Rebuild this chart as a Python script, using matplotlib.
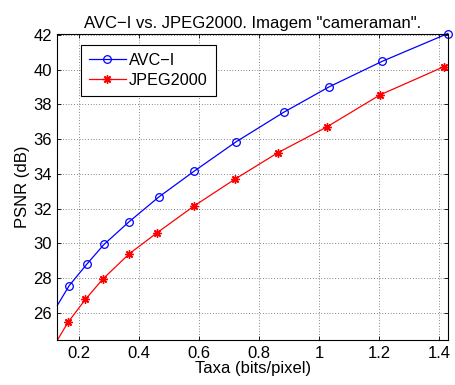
import numpy as np
import matplotlib
matplotlib.use("Agg")
import matplotlib.pyplot as plt

plt.rcParams['font.family'] = ['Liberation Sans', 'DejaVu Sans']

# taxa (bits/pixel) e PSNR (dB)
taxa_avc = [0.127, 0.166, 0.225, 0.282, 0.366, 0.464, 0.583, 0.722, 0.881, 1.032, 1.209, 1.428]
psnr_avc = [26.45, 27.57, 28.81, 29.94, 31.25, 32.66, 34.16, 35.84, 37.54, 39.00, 40.47, 42.07]

taxa_jpeg = [0.127, 0.162, 0.220, 0.278, 0.366, 0.458, 0.582, 0.718, 0.861, 1.025, 1.202, 1.416]
psnr_jpeg = [24.45, 25.46, 26.78, 27.95, 29.40, 30.60, 32.15, 33.69, 35.21, 36.70, 38.54, 40.17]

xticks = [0.2, 0.4, 0.6, 0.8, 1.0, 1.2, 1.4]
xticklabels = ['0.2', '0.4', '0.6', '0.8', '1', '1.2', '1.4']
yticks = [26, 28, 30, 32, 34, 36, 38, 40, 42]

fig = plt.figure(figsize=(4.56, 3.85), dpi=100)
ax = fig.add_axes([0.126, 0.117, 0.856, 0.795])

ax.plot(taxa_avc, psnr_avc, color='b', lw=0.9, marker='o', ms=5.5,
        mfc='none', mec='b', mew=0.9, markevery=range(1, len(taxa_avc)),
        label='AVC\u2212I', clip_on=False)
ax.plot(taxa_jpeg, psnr_jpeg, color='r', lw=0.9, marker=(8, 2, 0), ms=6,
        mfc='r', mec='r', mew=1.0, markevery=range(1, len(taxa_jpeg)),
        label='JPEG2000')

ax.set_xlim(0.127, 1.428)
ax.set_ylim(24.45, 42.05)
ax.set_xticks(xticks)
ax.set_xticklabels(xticklabels)
ax.set_yticks(yticks)
ax.tick_params(direction='in', top=True, right=True, labelsize=12, length=3, width=0.6, pad=4)
ax.grid(True, color='k', linestyle=(0, (1, 3)), linewidth=0.5, alpha=0.9)
for s in ax.spines.values():
    s.set_linewidth(0.8)

ax.set_xlabel('Taxa (bits/pixel)', fontsize=12, labelpad=0)
ax.set_ylabel('PSNR (dB)', fontsize=12, labelpad=2)
ax.set_title('AVC\u2212I vs. JPEG2000. Imagem "cameraman".', fontsize=12, pad=4)

leg = ax.legend(loc='upper left', bbox_to_anchor=(0.06, 0.964), fontsize=11.7,
                fancybox=False, edgecolor='k', framealpha=1, handlelength=2.25,
                borderpad=0.5, labelspacing=0.3, handletextpad=0.2, borderaxespad=0)
leg.get_frame().set_linewidth(0.8)

fig.savefig('out.png', dpi=100)
